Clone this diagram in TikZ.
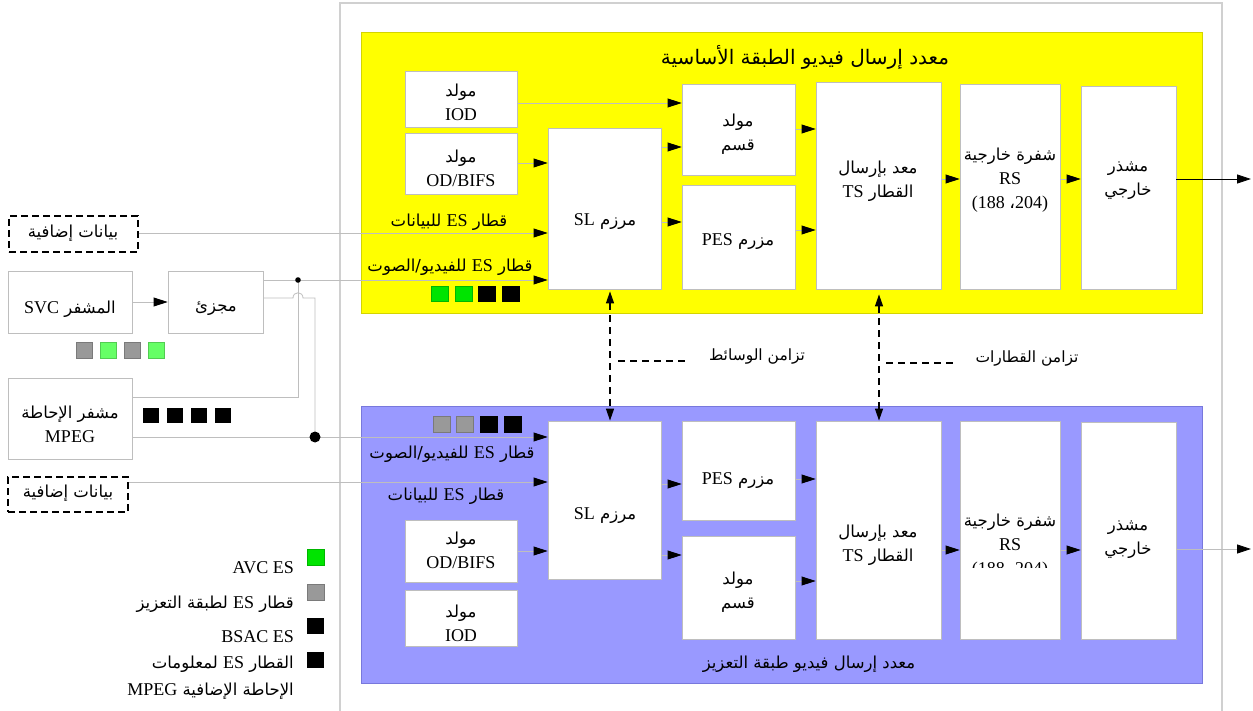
\documentclass[tikz,border=0pt]{standalone}
\usepackage{fontspec}
\setmainfont{Liberation Serif}
\newfontfamily\arabicfont[Script=Arabic]{DejaVu Sans}
\TeXXeTstate=1
\usetikzlibrary{arrows.meta,fit}
\newcommand\fAR{\arabicfont\fontsize{16.5}{24}\selectfont}
\newcommand\fLA{\rmfamily\fontsize{18}{24}\selectfont}
\newcommand\artext[1]{{\fAR\beginR #1\endR}}
\newcommand\lattext[1]{\beginL{\fLA #1}\endL}
\definecolor{frame}{RGB}{208,208,208}
\definecolor{ylw}{RGB}{255,255,0}
\definecolor{ylwb}{RGB}{212,212,0}
\definecolor{blu}{RGB}{153,153,255}
\definecolor{blub}{RGB}{120,120,220}
\definecolor{lgray}{RGB}{190,190,190}
\definecolor{sqgray}{RGB}{153,153,153}
\definecolor{sqlgreen}{RGB}{102,255,102}
\definecolor{sqgreen}{RGB}{0,228,0}
\tikzset{
  box/.style={draw=lgray, fill=white, line width=0.8pt, inner sep=0pt},
  dbox/.style={draw=black, line width=1.2pt, dash pattern=on 7pt off 4pt, inner sep=0pt},
  txt/.style={inner sep=0pt, align=center, font=\fLA},
  conn/.style={draw=lgray, line width=0.8pt, -{Triangle[length=14pt,width=9pt,color=black]}},
  wire/.style={draw=lgray, line width=0.8pt},
  sync/.style={draw=black, line width=1.2pt, dash pattern=on 7pt off 5pt,
     {Triangle[length=12pt,width=8pt]}-{Triangle[length=12pt,width=8pt]}},
  dsh/.style={draw=black, line width=1.1pt, dash pattern=on 7pt off 5pt},
  sq/.style={draw=#1!80!black, fill=#1, line width=0.5pt}
}
\begin{document}
\begin{tikzpicture}[x=1pt,y=-1pt]
\useasboundingbox (0,0) rectangle (1253,711);
\fill[white] (0,0) rectangle (1253,711);
% outer frame
\draw[frame, line width=1.2pt] (340,711) -- (340,3) -- (1222,3) -- (1222,711);
% layer regions
\node[fit={(361,32) (1202,313)}, inner sep=0pt, fill=ylw, draw=ylwb, line width=0.8pt] (yel) {};
\node[fit={(361,406) (1202,683)}, inner sep=0pt, fill=blu, draw=blub, line width=0.8pt] (blue) {};
\node[txt] at (805,57) {{\arabicfont\fontsize{20}{24}\selectfont\beginR معدد إرسال فيديو الطبقة الأساسية\endR}};
\node[txt] at (809,664) {{\arabicfont\fontsize{16.5}{24}\selectfont\beginR معدد إرسال فيديو طبقة التعزيز\endR}};

% ---------- top row boxes
\node[box, fit={(405,71) (517,127)}] (iodA) {};
\node[box, fit={(405,133) (517,194)}] (odA) {};
\node[box, fit={(548,128) (661,289)}] (slA) {};
\node[box, fit={(682,84) (795,175)}] (secA) {};
\node[box, fit={(682,185) (795,289)}] (pesA) {};
\node[box, fit={(816,82) (941,289)}] (tsA) {};
\node[box, fit={(960,84) (1060,289)}] (rsA) {};
\node[box, fit={(1081,86) (1176,289)}] (ilA) {};
\node[txt] at (461,102) {\artext{مولد}\\IOD};
\node[txt] at (461,168) {\artext{مولد}\\OD/BIFS};
\node[txt] at (605,222) {\artext{مرزم \lattext{SL}}};
\node[txt] at (738,134) {\artext{مولد}\\\artext{قسم}};
\node[txt] at (738,242) {\artext{مزرم \lattext{PES}}};
\node[txt] at (878,181) {\artext{معد بإرسال}\\\artext{القطار \lattext{TS}}};
\node[txt] at (1010,180) {\artext{شفرة خارجية}\\RS\\(188 {\arabicfont ،}204)};
\node[txt] at (1128,181) {\artext{مشذر}\\\artext{خارجي}};
\node[txt] at (449,222) {\artext{قطار \lattext{ES} للبيانات}};
\node[txt] at (450,267) {\artext{قطار \lattext{ES} للفيديو/الصوت}};

% ---------- bottom row boxes
\node[box, fit={(548,421) (661,579)}] (slB) {};
\node[box, fit={(405,520) (517,582)}] (odB) {};
\node[box, fit={(405,590) (517,646)}] (iodB) {};
\node[box, fit={(682,421) (795,520)}] (pesB) {};
\node[box, fit={(682,536) (795,639)}] (secB) {};
\node[box, fit={(816,421) (941,639)}] (tsB) {};
\node[box, fit={(960,421) (1060,639)}] (rsB) {};
\node[box, fit={(1081,422) (1176,639)}] (ilB) {};
\node[txt] at (605,516) {\artext{مرزم \lattext{SL}}};
\node[txt] at (461,550) {\artext{مولد}\\OD/BIFS};
\node[txt] at (461,623) {\artext{مولد}\\IOD};
\node[txt] at (738,481) {\artext{مزرم \lattext{PES}}};
\node[txt] at (738,592) {\artext{مولد}\\\artext{قسم}};
\node[txt] at (878,545) {\artext{معد بإرسال}\\\artext{القطار \lattext{TS}}};
\begin{scope}
\clip (960,421) rectangle (1060,567);
\node[txt] at (1010,546) {\artext{شفرة خارجية}\\RS\\(188 {\arabicfont ،}204)};
\end{scope}
\node[txt] at (1128,540) {\artext{مشذر}\\\artext{خارجي}};
\node[txt] at (452,454) {\artext{قطار \lattext{ES} للفيديو/الصوت}};
\node[txt] at (446,496) {\artext{قطار \lattext{ES} للبيانات}};

% ---------- left side
\node[dbox, fit={(9,216) (138,252)}] (addA) {};
\node[txt] at (73,233) {\artext{بيانات إضافية}};
\node[box, fit={(8,271) (132,333)}] (svc) {};
\node[txt] at (70,309) {\artext{المشفر \lattext{SVC}}};
\node[box, fit={(168,271) (263,333)}] (split) {};
\node[txt] at (216,309) {\artext{مجزئ}};
\node[box, fit={(8,378) (132,459)}] (mpeg) {};
\node[txt] at (70,424) {\artext{مشفر الإحاطة}\\MPEG};
\node[dbox, fit={(8,477) (128,512)}] (addB) {};
\node[txt] at (68,493) {\artext{بيانات إضافية}};

% squares
\foreach \x/\c in {76/sqgray,100/sqlgreen,124/sqgray,148/sqlgreen}
  \draw[sq=\c] (\x,342) rectangle ++(16,16);
\foreach \x in {143,167,191,215}
  \fill[black] (\x,408) rectangle ++(16,15);
\foreach \x/\c in {431/sqgreen,455/sqgreen,478/black,502/black}
  \draw[sq=\c] (\x,286) rectangle ++(17,15);
\foreach \x/\c in {433/sqgray,456/sqgray,480/black,504/black}
  \draw[sq=\c] (\x,416) rectangle ++(17,16);

% legend
\draw[sq=sqgreen] (307,549) rectangle (324,565);
\draw[sq=sqgray] (307,584) rectangle (324,600);
\fill[black] (307,618) rectangle (324,634);
\fill[black] (307,652) rectangle (324,668);
\node[txt, anchor=east] at (294,568) {AVC ES};
\node[txt, anchor=east] at (294,604) {\artext{قطار \lattext{ES} لطبقة التعزيز}};
\node[txt, anchor=east] at (294,637) {BSAC ES};
\node[txt, anchor=east] at (294,664) {\artext{القطار \lattext{ES} لمعلومات}};
\node[txt, anchor=east] at (294,691) {\artext{الإحاطة الإضافية \lattext{MPEG}}};

% ---------- connectors, left
\draw[conn] (svc.east |- 0,302) -- (split.west |- 0,302);
\draw[conn] (addA.east |- 0,233) -- (slA.west |- 0,233);
\draw[conn] (split.east |- 0,280) -- (slA.west |- 0,280);
\draw[wire] (mpeg.east |- 0,397) -- (298,397) -- (298,280);
\fill[black] (298,280) circle (2.8);
\draw[wire] (split.east |- 0,298) -- (293,298) .. controls (293,291) and (303,291) .. (303,298) -- (315,298) -- (315,437);
\draw[conn] (mpeg.east |- 0,437) -- (slB.west |- 0,437);
\fill[black] (315,437) circle (5.5);
\draw[conn] (addB.east |- 0,482) -- (slB.west |- 0,482);

% ---------- connectors, top row
\draw[conn] (iodA.east |- 0,103) -- (secA.west |- 0,103);
\draw[conn] (odA.east |- 0,163) -- (slA.west |- 0,163);
\draw[conn] (slA.east |- 0,147) -- (secA.west |- 0,147);
\draw[conn] (slA.east |- 0,222) -- (pesA.west |- 0,222);
\draw[conn] (secA.east |- 0,129) -- (tsA.west |- 0,129);
\draw[conn] (pesA.east |- 0,230) -- (tsA.west |- 0,230);
\draw[conn] (tsA.east |- 0,179) -- (rsA.west |- 0,179);
\draw[conn] (rsA.east |- 0,179) -- (ilA.west |- 0,179);
\coordinate (outA) at (1251,179);
\draw[conn, draw=black] (ilA.east |- 0,179) -- (outA);

% ---------- connectors, bottom row
\draw[conn] (odB.east |- 0,551) -- (slB.west |- 0,551);
\draw[conn] (slB.east |- 0,484) -- (pesB.west |- 0,484);
\draw[conn] (slB.east |- 0,555) -- (secB.west |- 0,555);
\draw[conn] (pesB.east |- 0,479) -- (tsB.west |- 0,479);
\draw[conn] (secB.east |- 0,581) -- (tsB.west |- 0,581);
\draw[conn] (tsB.east |- 0,550) -- (rsB.west |- 0,550);
\draw[conn] (rsB.east |- 0,550) -- (ilB.west |- 0,550);
\coordinate (outB) at (1251,549);
\draw[conn] (ilB.east |- 0,549) -- (outB);

% ---------- synchronisation
\draw[sync, shorten <=2pt] ([xshift=5.5pt]slA.south) -- ([xshift=5.5pt]slB.north);
\draw[sync, shorten <=5pt] ([xshift=0.5pt]tsA.south) -- ([xshift=0.5pt]tsB.north);
\node[txt] (ms) at (757,357) {{\arabicfont\fontsize{15.5}{24}\selectfont\beginR تزامن الوسائط\endR}};
\node[txt] (ts) at (1027,359) {{\arabicfont\fontsize{15.5}{24}\selectfont\beginR تزامن القطارات\endR}};
\draw[dsh] (618,361) -- ([xshift=-20pt]ms.west |- 0,361);
\draw[dsh] (886,363) -- ([xshift=-20pt]ts.west |- 0,363);
\end{tikzpicture}
\end{document}
